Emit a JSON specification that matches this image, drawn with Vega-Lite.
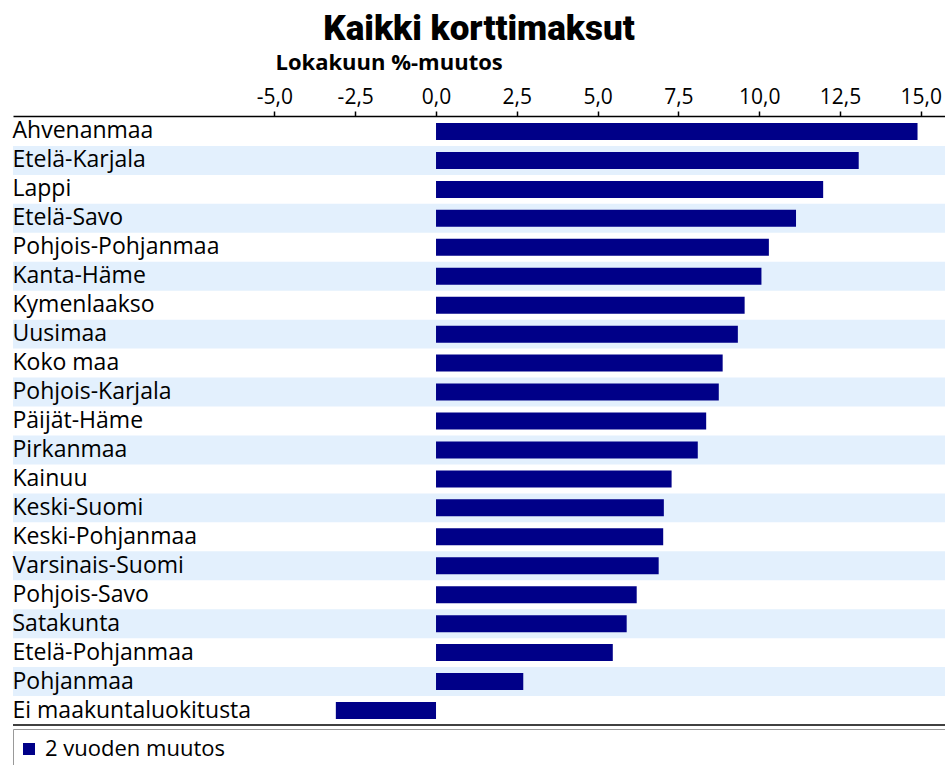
{
  "$schema": "https://vega.github.io/schema/vega-lite/v6.json",
  "autosize": "none",
  "width": 932,
  "height": 608,
  "padding": {"left": 13, "top": 117, "right": 0, "bottom": 40},
  "background": "white",
  "title": {
    "text": "Kaikki korttimaksut",
    "font": "Roboto",
    "fontSize": 35,
    "fontWeight": 900,
    "color": "black",
    "anchor": "middle",
    "offset": 4
  },
  "data": {
    "values": [
      {"alue": "Ahvenanmaa", "muutos": 14.9, "sarja": "2 vuoden muutos"},
      {"alue": "Etelä-Karjala", "muutos": 13.08, "sarja": "2 vuoden muutos"},
      {"alue": "Lappi", "muutos": 11.98, "sarja": "2 vuoden muutos"},
      {"alue": "Etelä-Savo", "muutos": 11.14, "sarja": "2 vuoden muutos"},
      {"alue": "Pohjois-Pohjanmaa", "muutos": 10.3, "sarja": "2 vuoden muutos"},
      {"alue": "Kanta-Häme", "muutos": 10.07, "sarja": "2 vuoden muutos"},
      {"alue": "Kymenlaakso", "muutos": 9.55, "sarja": "2 vuoden muutos"},
      {"alue": "Uusimaa", "muutos": 9.34, "sarja": "2 vuoden muutos"},
      {"alue": "Koko maa", "muutos": 8.87, "sarja": "2 vuoden muutos"},
      {"alue": "Pohjois-Karjala", "muutos": 8.75, "sarja": "2 vuoden muutos"},
      {"alue": "Päijät-Häme", "muutos": 8.36, "sarja": "2 vuoden muutos"},
      {"alue": "Pirkanmaa", "muutos": 8.1, "sarja": "2 vuoden muutos"},
      {"alue": "Kainuu", "muutos": 7.29, "sarja": "2 vuoden muutos"},
      {"alue": "Keski-Suomi", "muutos": 7.05, "sarja": "2 vuoden muutos"},
      {"alue": "Keski-Pohjanmaa", "muutos": 7.03, "sarja": "2 vuoden muutos"},
      {"alue": "Varsinais-Suomi", "muutos": 6.89, "sarja": "2 vuoden muutos"},
      {"alue": "Pohjois-Savo", "muutos": 6.21, "sarja": "2 vuoden muutos"},
      {"alue": "Satakunta", "muutos": 5.9, "sarja": "2 vuoden muutos"},
      {"alue": "Etelä-Pohjanmaa", "muutos": 5.47, "sarja": "2 vuoden muutos"},
      {"alue": "Pohjanmaa", "muutos": 2.7, "sarja": "2 vuoden muutos"},
      {"alue": "Ei maakuntaluokitusta", "muutos": -3.1, "sarja": "2 vuoden muutos"}
    ]
  },
  "encoding": {
    "y": {
      "field": "alue",
      "type": "nominal",
      "sort": ["Ahvenanmaa", "Etelä-Karjala", "Lappi", "Etelä-Savo", "Pohjois-Pohjanmaa", "Kanta-Häme", "Kymenlaakso", "Uusimaa", "Koko maa", "Pohjois-Karjala", "Päijät-Häme", "Pirkanmaa", "Kainuu", "Keski-Suomi", "Keski-Pohjanmaa", "Varsinais-Suomi", "Pohjois-Savo", "Satakunta", "Etelä-Pohjanmaa", "Pohjanmaa", "Ei maakuntaluokitusta"],
      "scale": {"paddingInner": 0, "paddingOuter": 0},
      "axis": {
        "title": null,
        "orient": "left",
        "ticks": false,
        "domain": false,
        "labelAlign": "left",
        "labelPadding": 1,
        "labelFont": "Open Sans",
        "labelFontSize": 23,
        "labelColor": "black",
        "labelLimit": 400,
        "zindex": 2
      }
    }
  },
  "layer": [
    {
      "transform": [
        {"window": [{"op": "row_number", "as": "rivi"}]},
        {"filter": "datum.rivi % 2 == 0"}
      ],
      "mark": {"type": "rect", "color": "#e3f0fd"},
      "encoding": {}
    },
    {
      "mark": {"type": "bar", "size": 17},
      "encoding": {
        "x": {
          "field": "muutos",
          "type": "quantitative",
          "scale": {"domain": [-13.09, 15.75], "nice": false, "zero": false},
          "axis": {
            "orient": "top",
            "values": [-5, -2.5, 0, 2.5, 5, 7.5, 10, 12.5, 15],
            "format": ".1f",
            "grid": false,
            "domain": true,
            "domainColor": "black",
            "domainWidth": 1.5,
            "offset": 1,
            "ticks": true,
            "tickColor": "black",
            "tickWidth": 1.5,
            "tickSize": 5,
            "labelFont": "Open Sans",
            "labelFontSize": 21,
            "labelColor": "black",
            "labelPadding": 4,
            "title": "Lokakuun %-muutos",
            "titleFont": "Open Sans",
            "titleFontSize": 22,
            "titleFontWeight": "bold",
            "titleColor": "black",
            "titleAlign": "left",
            "titleAnchor": "start",
            "titleBaseline": "alphabetic",
            "titleX": 262,
            "titleY": -47
          }
        },
        "color": {
          "field": "sarja",
          "type": "nominal",
          "scale": {"range": ["#000088"]},
          "legend": {
            "title": null,
            "orient": "none",
            "legendX": 0,
            "legendY": 612,
            "padding": 9,
            "strokeColor": "#999999",
            "fillColor": "white",
            "symbolType": "square",
            "symbolSize": 144,
            "symbolStrokeWidth": 0,
            "symbolOffset": -4,
            "labelFont": "Open Sans",
            "labelFontSize": 22,
            "labelColor": "black",
            "labelLimit": 2000,
            "labelOffset": 5,
            "labelExpr": "datum.label + '\u2003\u2003\u2003\u2003\u2003\u2003\u2003\u2003\u2003\u2003\u2003\u2003\u2003\u2003\u2003\u2003\u2003\u2003\u2003\u2003\u2003\u2003\u2003\u2003\u2003\u2003\u2003\u2003\u2003\u2003\u2003\u2003\u2002\u200b'"
          }
        }
      }
    },
    {
      "transform": [{"filter": "datum.alue == 'Ei maakuntaluokitusta'"}],
      "mark": {"type": "rule", "color": "black", "strokeWidth": 1.5},
      "encoding": {
        "y": {"field": "alue", "type": "nominal", "bandPosition": 1}
      }
    }
  ],
  "config": {
    "view": {"stroke": null},
    "locale": {
      "number": {
        "decimal": ",",
        "thousands": " ",
        "grouping": [3],
        "currency": ["", " €"],
        "minus": "-"
      }
    }
  }
}
